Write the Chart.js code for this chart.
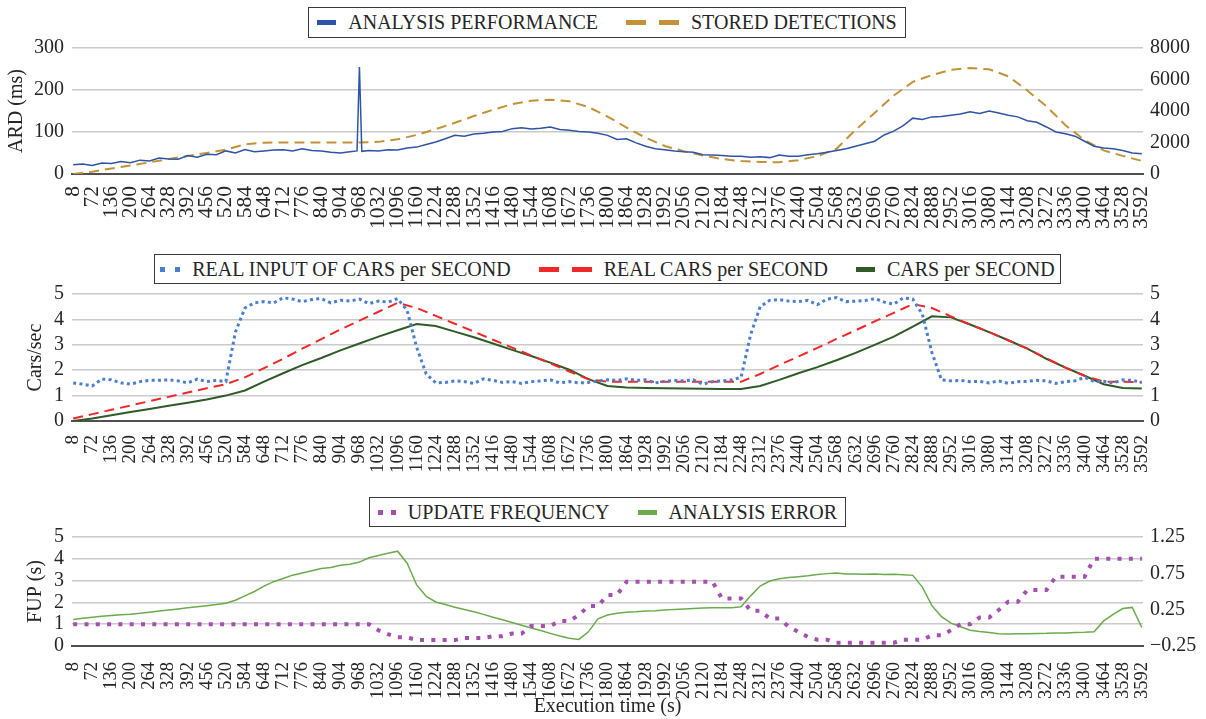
<!DOCTYPE html>
<html>
<head>
<meta charset="utf-8">
<script src="https://cdn.jsdelivr.net/npm/chart.js@4.4.1/dist/chart.umd.min.js"></script>
<style>
  body { margin: 0; background: #fff; width: 1206px; height: 719px; position: relative; overflow: hidden;
         font-family: "Liberation Serif", "Times New Roman", serif; color: #262626; }
  .box { position: absolute; left: 0; width: 1206px; }
  .legend { position: absolute; box-sizing: border-box; border: 1.5px solid #3a3a3a; background: #fff;
            display: flex; align-items: center; justify-content: center; gap: 28px; font-size: 20px; white-space: nowrap; }
  .item { display: flex; align-items: center; }
  .sym { display: inline-block; height: 5px; margin-right: 12px; }
</style>
</head>
<body>
<div class="box" style="top:0;height:236px"><canvas id="c1"></canvas></div>
<div class="box" style="top:236px;height:244px"><canvas id="c2"></canvas></div>
<div class="box" style="top:480px;height:239px"><canvas id="c3"></canvas></div>
<div class="legend" id="lg1" style="left:308px;top:7px;width:598px;height:31px"></div>
<div class="legend" id="lg2" style="left:154px;top:254px;width:907px;height:30px"></div>
<div class="legend" id="lg3" style="left:369px;top:497px;width:477px;height:30px"></div>
<script>
// x tick labels (execution time, s)
var tickLabels = [8,72,136,200,264,328,392,456,520,584,648,712,776,840,904,968,
  1032,1096,1160,1224,1288,1352,1416,1480,1544,1608,1672,1736,1800,1864,1928,1992,
  2056,2120,2184,2248,2312,2376,2440,2504,2568,2632,2696,2760,2824,2888,2952,3016,
  3080,3144,3208,3272,3336,3400,3464,3528,3592];

// sample times every 32 s
var times = [8,40,72,104,136,168,200,232,264,296,328,360,392,424,456,488,
  520,552,584,616,648,680,712,744,776,808,840,872,904,936,968,1000,
  1032,1064,1096,1128,1160,1192,1224,1256,1288,1320,1352,1384,1416,1448,1480,1512,
  1544,1576,1608,1640,1672,1704,1736,1768,1800,1832,1864,1896,1928,1960,1992,2024,
  2056,2088,2120,2152,2184,2216,2248,2280,2312,2344,2376,2408,2440,2472,2504,2536,
  2568,2600,2632,2664,2696,2728,2760,2792,2824,2856,2888,2920,2952,2984,3016,3048,
  3080,3112,3144,3176,3208,3240,3272,3304,3336,3368,3400,3432,3464,3496,3528,3560,
  3592];

// chart 1
var ardTimes = [8,40,72,104,136,168,200,232,264,296,328,360,392,424,456,488,
  520,552,584,616,648,680,712,744,776,808,840,872,904,936,960,968,976,
  1000,1032,1064,1096,1128,1160,1192,1224,1256,1288,1320,1352,1384,1416,1448,1480,
  1512,1544,1576,1608,1640,1672,1704,1736,1768,1800,1832,1864,1896,1928,1960,1992,
  2024,2056,2088,2120,2152,2184,2216,2248,2280,2312,2344,2376,2408,2440,2472,2504,
  2536,2568,2600,2632,2664,2696,2728,2760,2792,2824,2856,2888,2920,2952,2984,3016,
  3048,3080,3112,3144,3176,3208,3240,3272,3304,3336,3368,3400,3432,3464,3496,3528,
  3560,3592];
var analysisPerformance = [22,24,20,26,25,30,27,33,31,38,36,35,44,40,47,46,
  55,50,58,53,55,57,58,55,60,56,55,52,50,53,55,255,54,
  56,55,58,57,62,64,70,76,84,92,90,95,97,100,101,108,
  110,107,109,112,106,104,101,100,97,92,82,84,74,66,60,58,
  55,53,52,46,45,44,42,42,40,41,39,45,42,42,46,48,
  52,56,60,66,72,78,93,102,115,133,130,136,137,140,143,148,
  144,150,145,140,136,127,123,112,100,96,90,78,66,62,60,56,
  50,48];
var storedDetections = [0,150,350,540,740,950,1140,1340,1550,1880,1990,2000,2000,2000,2000,2000,
  2040,2200,2480,2850,3250,3680,4080,4430,4650,4720,4620,4250,3650,2950,2300,1780,
  1450,1180,950,820,760,750,880,1130,1600,2800,3880,4980,5850,6280,6620,6730,
  6650,6200,5300,4300,3100,2150,1500,1150,830];

// chart 2
var realInputCars = [1.5,1.45,1.38,1.65,1.62,1.5,1.45,1.55,1.6,1.6,1.62,1.58,1.5,1.65,1.55,1.6,
  1.55,3.5,4.45,4.65,4.7,4.65,4.85,4.8,4.7,4.78,4.82,4.65,4.75,4.72,4.8,4.62,
  4.72,4.68,4.82,4.35,2.9,1.85,1.5,1.52,1.58,1.55,1.48,1.66,1.6,1.52,1.55,1.48,
  1.55,1.58,1.62,1.5,1.55,1.5,1.52,1.58,1.62,1.6,1.66,1.6,1.62,1.5,1.56,1.6,
  1.58,1.62,1.45,1.55,1.58,1.62,1.72,3.4,4.5,4.75,4.78,4.72,4.7,4.75,4.58,4.8,
  4.86,4.7,4.72,4.74,4.82,4.68,4.6,4.85,4.8,4.2,2.7,1.62,1.58,1.6,1.55,1.56,
  1.5,1.58,1.48,1.55,1.56,1.6,1.58,1.48,1.55,1.58,1.72,1.55,1.56,1.5,1.62,1.6,
  1.52];
var realCars = [0.1,0.27,0.44,0.61,0.78,0.95,1.12,1.29,1.45,1.72,2.08,2.45,2.85,3.22,3.6,3.95,
  4.3,4.65,4.45,4.14,3.83,3.52,3.2,2.89,2.58,2.27,1.95,1.64,1.55,1.55,1.55,1.55,
  1.55,1.55,1.55,1.55,1.85,2.2,2.54,2.88,3.23,3.57,3.92,4.26,4.6,4.45,4.12,3.8,
  3.5,3.18,2.85,2.47,2.1,1.78,1.55,1.55,1.52];
var carsPerSecond = [0,0.1,0.23,0.35,0.47,0.6,0.72,0.85,1.0,1.2,1.55,1.88,2.2,2.48,2.78,3.05,
  3.32,3.57,3.82,3.74,3.52,3.3,3.05,2.8,2.56,2.3,2.02,1.65,1.38,1.32,1.3,1.29,
  1.28,1.27,1.26,1.26,1.38,1.62,1.88,2.12,2.39,2.68,3.0,3.32,3.72,4.12,4.08,3.8,
  3.5,3.18,2.85,2.45,2.1,1.78,1.45,1.3,1.28];

// chart 3
var updateFrequency = [1,1,1,1,1,1,1,1,1,1,1,1,1,1,1,1,
  1,1,1,1,1,1,1,1,1,1,1,1,1,1,1,1,
  0.72,0.54,0.4,0.4,0.27,0.27,0.27,0.27,0.27,0.37,0.37,0.37,0.45,0.45,0.57,0.57,
  0.92,0.92,0.92,1.15,1.15,1.42,1.83,1.83,2.34,2.34,2.95,2.95,2.95,2.95,2.95,2.95,
  2.95,2.95,2.95,2.95,2.18,2.18,2.18,1.62,1.62,1.26,1.26,0.88,0.65,0.42,0.29,0.29,
  0.15,0.15,0.15,0.15,0.15,0.15,0.15,0.29,0.29,0.29,0.49,0.49,0.72,1.0,1.0,1.31,
  1.31,1.65,2.03,2.03,2.57,2.57,2.57,3.18,3.18,3.18,3.18,4,4,4,4,4,
  4];
var analysisError = [0.116,0.131,0.146,0.158,0.17,0.179,0.188,0.2,0.215,0.23,0.245,0.26,0.275,0.29,0.305,0.32,
  0.338,0.38,0.44,0.5,0.575,0.635,0.68,0.725,0.755,0.785,0.815,0.83,0.86,0.875,0.905,0.965,
  0.995,1.025,1.055,0.89,0.59,0.434,0.356,0.32,0.284,0.251,0.221,0.185,0.146,0.11,0.074,0.035,
  -0.001,-0.037,-0.076,-0.112,-0.142,-0.16,-0.055,0.125,0.176,0.2,0.215,0.221,0.23,0.236,0.245,0.254,
  0.26,0.266,0.272,0.275,0.278,0.278,0.29,0.44,0.575,0.644,0.674,0.692,0.704,0.716,0.734,0.746,
  0.755,0.74,0.74,0.737,0.74,0.734,0.737,0.731,0.722,0.56,0.305,0.155,0.065,0.014,-0.034,-0.052,
  -0.064,-0.082,-0.085,-0.082,-0.082,-0.079,-0.076,-0.07,-0.07,-0.064,-0.061,-0.055,0.095,0.185,0.266,0.281,
  0.005];

Chart.defaults.font.family = '"Liberation Serif", "Times New Roman", serif';
Chart.defaults.color = '#262626';

var pairs = function (ts, vs) {
    return ts.map(function (t, i) { return {x: t, y: vs[i]}; });
};

// bottom axis shared by the three charts
var xAxis = function (height, fontSize, pad, title) {
    return {
        type: 'linear', min: 4, max: 3596, z: 1,
        grid: {display: false},
        border: {display: true, color: '#505050', width: 2},
        ticks: {autoSkip: false, minRotation: 90, maxRotation: 90, padding: pad, font: {size: fontSize},
                callback: function (v) { return String(v); }},
        afterBuildTicks: function (s) { s.ticks = tickLabels.map(function (v) { return {value: v}; }); },
        afterFit: function (s) { s.height = height; },
        title: {display: !!title, text: title || '', font: {size: 20}, padding: {top: 0, bottom: 0}}
    };
};

var yLeft = function (max, step, title, titlePad) {
    return {
        position: 'left', min: 0, max: max,
        grid: {color: '#cacaca', lineWidth: 1.5, drawTicks: false},
        border: {display: false},
        ticks: {stepSize: step, autoSkip: false, padding: 8, font: {size: 20}, callback: function (v) { return String(v); }},
        title: {display: true, text: title, font: {size: 20}, padding: {top: titlePad, bottom: 0}},
        afterFit: function (s) { s.width = 72; }
    };
};

var yRight = function (min, max, step, fmt) {
    return {
        position: 'right', min: min, max: max,
        grid: {display: false, drawTicks: false},
        border: {display: false},
        ticks: {stepSize: step, autoSkip: false, padding: 7, font: {size: 20}, callback: fmt},
        afterFit: function (s) { s.width = 63; }
    };
};

var lineDs = function (label, data, axis, color, width, dash) {
    return {label: label, data: data, yAxisID: axis, borderColor: color, backgroundColor: color,
            borderWidth: width, borderDash: dash || [], pointRadius: 0, fill: false, tension: 0};
};

var baseOptions = function (padTop, scales) {
    return {
        responsive: true, maintainAspectRatio: false, animation: false,
        layout: {padding: {top: padTop, left: 0, right: 0, bottom: 0}},
        plugins: {legend: {display: false}, tooltip: {enabled: false}},
        scales: scales
    };
};

var legendFor = function (id, datasets, marks) {
    var box = document.getElementById(id);
    datasets.forEach(function (ds, i) {
        var item = document.createElement('span');
        item.className = 'item';
        var sym = document.createElement('i');
        sym.className = 'sym';
        var c = ds.borderColor, m = marks[i];
        if (m.type === 'solid') {
            sym.style.width = '19px';
            sym.style.background = c;
        } else if (m.type === 'dash') {
            sym.style.width = '53px';
            sym.style.background = 'linear-gradient(90deg,' + c + ' 0 20px,transparent 20px 33px,' + c + ' 33px 53px)';
        } else {
            var w = 10 + m.gap;
            sym.style.width = w + 'px';
            sym.style.background = 'linear-gradient(90deg,' + c + ' 0 5px,transparent 5px ' + (5 + m.gap) + 'px,' + c + ' ' + (5 + m.gap) + 'px ' + w + 'px)';
        }
        item.appendChild(sym);
        item.appendChild(document.createTextNode(ds.label));
        box.appendChild(item);
    });
};

var plain = function (v) { return String(v); };

// grafico 1
var ds1 = [
    lineDs('ANALYSIS PERFORMANCE', pairs(ardTimes, analysisPerformance), 'y', '#2e54a6', 1.5),
    lineDs('STORED DETECTIONS', pairs(tickLabels, storedDetections), 'y1', '#c39236', 2, [10, 6])
];
new Chart(document.getElementById('c1'), {
    type: 'line', data: {datasets: ds1},
    options: baseOptions(48, {x: xAxis(62, 21.5, 4), y: yLeft(300, 100, 'ARD (ms)', 5), y1: yRight(0, 8000, 2000, plain)})
});
legendFor('lg1', ds1, [{type: 'solid'}, {type: 'dash'}]);

// grafico 2
var ds2 = [
    lineDs('REAL INPUT OF CARS per SECOND', pairs(times, realInputCars), 'y', '#4a7fcf', 3, [3, 3.3]),
    lineDs('REAL CARS per SECOND', pairs(tickLabels, realCars), 'y', '#f0282a', 2, [10, 6]),
    lineDs('CARS per SECOND', pairs(tickLabels, carsPerSecond), 'y1', '#2e5b27', 2)
];
new Chart(document.getElementById('c2'), {
    type: 'line', data: {datasets: ds2},
    options: baseOptions(58, {x: xAxis(59, 19, 6), y: yLeft(5, 1, 'Cars/sec', 24), y1: yRight(0, 5, 1, plain)})
});
legendFor('lg2', ds2, [{type: 'dot', gap: 10}, {type: 'dash'}, {type: 'solid'}]);

// grafico 3
var ds3 = [
    lineDs('UPDATE FREQUENCY', pairs(times, updateFrequency), 'y', '#a64fb0', 4, [4, 7.3]),
    lineDs('ANALYSIS ERROR', pairs(times, analysisError), 'y1', '#6aac4c', 1.5)
];
new Chart(document.getElementById('c3'), {
    type: 'line', data: {datasets: ds3},
    options: baseOptions(57, {
        x: xAxis(73, 18.5, 8, 'Execution time (s)'),
        y: yLeft(5, 1, 'FUP (s)', 24),
        y1: yRight(-0.25, 1.25, 0.5, function (v) { return (v < 0 ? '\u2212' : '') + Math.abs(v).toFixed(2); })
    })
});
legendFor('lg3', ds3, [{type: 'dot', gap: 8}, {type: 'solid'}]);
</script>
</body>
</html>
